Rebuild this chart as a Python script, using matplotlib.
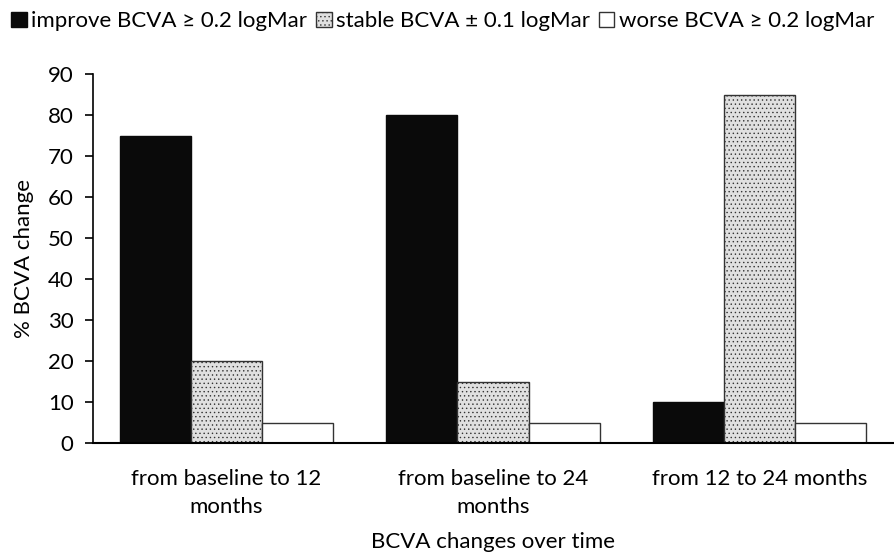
import numpy as np
import matplotlib
matplotlib.use('Agg')
import matplotlib.pyplot as plt
from matplotlib.patches import Patch

plt.rcParams['font.family'] = ['Lato', 'DejaVu Sans']
plt.rcParams['hatch.color'] = '#a8a8a8'
plt.rcParams['hatch.linewidth'] = 0.5

categories = ['from baseline to 12\nmonths', 'from baseline to 24\nmonths', 'from 12 to 24 months']
improve = [75, 80, 10]
stable = [20, 15, 85]
worse = [5, 5, 5]
series_names = ['improve BCVA \u2265 0.2 logMar', 'stable BCVA \u00b1 0.1 logMar', 'worse BCVA \u2265 0.2 logMar']

fig = plt.figure(figsize=(8.94, 5.58), dpi=100)
ax = fig.add_axes([0.104, 0.206, 0.895, 0.661])

x = np.arange(len(categories))
w = 0.8 / 3
styles = [
    dict(color='#0a0a0a', edgecolor='#0a0a0a'),
    dict(color='#e0e0e0', edgecolor='#333333', hatch='....'),
    dict(color='white', edgecolor='#333333'),
]
for i, (vals, st) in enumerate(zip([improve, stable, worse], styles)):
    ax.bar(x - 0.4 + w * (i + 0.5), vals, width=w, linewidth=1.0, **st)

ax.set_xlim(-0.5, 2.5)
ax.set_ylim(0, 90)
ax.set_yticks(range(0, 91, 10))
ax.set_xticks(x)
ax.set_xticklabels(categories, fontsize=16, linespacing=1.45)
ax.tick_params(axis='x', length=0, pad=19)
ax.tick_params(axis='y', labelsize=16, length=6, width=1.2, direction='out', pad=8)
for s in ['top', 'right']:
    ax.spines[s].set_visible(False)
ax.spines['left'].set_linewidth(1.2)
ax.spines['bottom'].set_linewidth(1.5)
ax.set_ylabel('% BCVA change', fontsize=16, labelpad=10)
ax.set_xlabel('BCVA changes over time', fontsize=16, labelpad=11)

handles = [Patch(facecolor=st['color'], edgecolor=st['edgecolor'], hatch=st.get('hatch'), linewidth=1.0)
           for st in styles]
fig.legend(handles, series_names, loc='upper left', bbox_to_anchor=(0.0, 1.0), ncol=3,
           frameon=False, fontsize=16, handlelength=0.7, handleheight=0.7,
           handletextpad=0.2, columnspacing=0.4, borderaxespad=0.2, borderpad=0.3)

fig.savefig('out.png', dpi=100)
